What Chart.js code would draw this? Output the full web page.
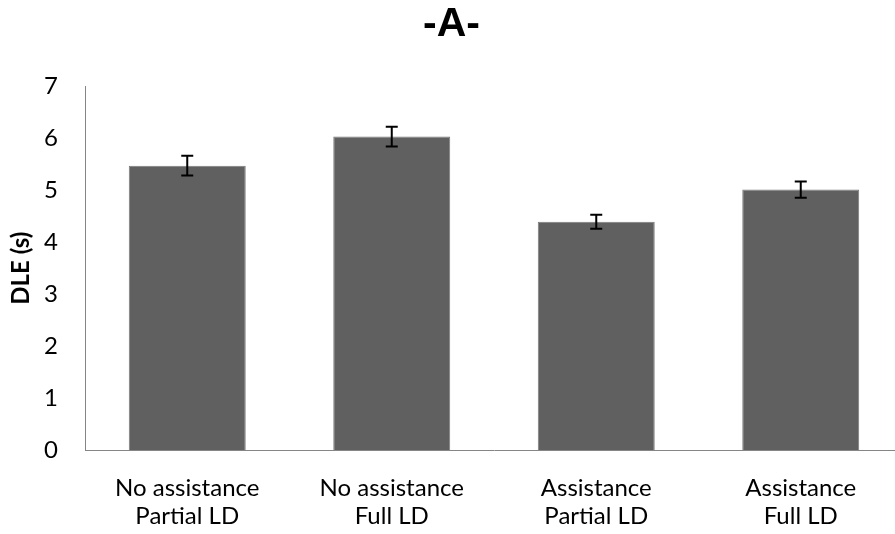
<!DOCTYPE html>
<html>
<head>
<meta charset="utf-8">
<script src="https://cdn.jsdelivr.net/npm/chart.js@4.4.1/dist/chart.umd.min.js"></script>
<style>
  html, body { margin: 0; padding: 0; background: #fff; overflow: hidden; }
  #wrap { width: 895px; height: 534px; overflow: hidden; position: relative; }
  #box { width: 910px; height: 534px; position: absolute; left: 0; top: 0; }
</style>
</head>
<body>
<div id="wrap"><div id="box"><canvas id="c"></canvas></div></div>
<script>
const categories = [["No assistance", "Partial LD"], ["No assistance", "Full LD"], ["Assistance", "Partial LD"], ["Assistance", "Full LD"]];
const dleValues = [5.47, 6.03, 4.39, 5.01];
const dleErrors = [0.19, 0.19, 0.135, 0.157];
const yTicks = [0, 1, 2, 3, 4, 5, 6, 7];

const errorBars = {
  id: 'errorBars',
  afterDatasetsDraw(chart) {
    const ctx = chart.ctx;
    const meta = chart.getDatasetMeta(0);
    const ys = chart.scales.y;
    ctx.save();
    ctx.strokeStyle = '#000';
    ctx.lineWidth = 2;
    meta.data.forEach((bar, i) => {
      const x = bar.x;
      const top = ys.getPixelForValue(dleValues[i] + dleErrors[i]);
      const bot = ys.getPixelForValue(dleValues[i] - dleErrors[i]);
      ctx.beginPath();
      ctx.moveTo(x, top); ctx.lineTo(x, bot);
      ctx.moveTo(x - 6, top); ctx.lineTo(x + 6, top);
      ctx.moveTo(x - 6, bot); ctx.lineTo(x + 6, bot);
      ctx.stroke();
    });
    ctx.restore();
  }
};

new Chart(document.getElementById('c'), {
  type: 'bar',
  data: {
    labels: categories,
    datasets: [{
      data: dleValues,
      backgroundColor: '#606060',
      borderColor: '#7a7a7a',
      borderWidth: 1,
      barPercentage: 0.572,
      categoryPercentage: 1.0
    }]
  },
  options: {
    responsive: true,
    maintainAspectRatio: false,
    animation: false,
    layout: { padding: { left: 0, right: 7, top: 0, bottom: 0 } },
    plugins: {
      legend: { display: false },
      tooltip: { enabled: false },
      title: {
        display: true,
        text: '-A-',
        color: '#000',
        font: { family: 'Liberation Sans', size: 41, weight: 'bold', lineHeight: 1.2 },
        padding: { top: 0, bottom: 37 }
      }
    },
    scales: {
      x: {
        grid: { display: false, drawTicks: false },
        border: { display: true, color: '#868686', width: 1 },
        ticks: {
          color: '#000',
          padding: 24,
          maxRotation: 0,
          font: { family: 'Lato', size: 24, lineHeight: 1.167 }
        },
        afterFit(scale) { scale.height = 84; }
      },
      y: {
        min: 0,
        max: 7,
        afterBuildTicks(scale) { scale.ticks = yTicks.map(v => ({ value: v })); },
        grid: { display: false, drawTicks: false },
        border: { display: true, color: '#868686', width: 1 },
        ticks: {
          color: '#000',
          padding: 27,
          font: { family: 'Lato', size: 24 }
        },
        title: {
          display: true,
          text: 'DLE (s)',
          color: '#000',
          padding: { top: 7, bottom: 0 },
          font: { family: 'Lato', size: 24, weight: 'bold' }
        },
        afterFit(scale) { scale.width = 85; }
      }
    }
  },
  plugins: [errorBars]
});
</script>
</body>
</html>
